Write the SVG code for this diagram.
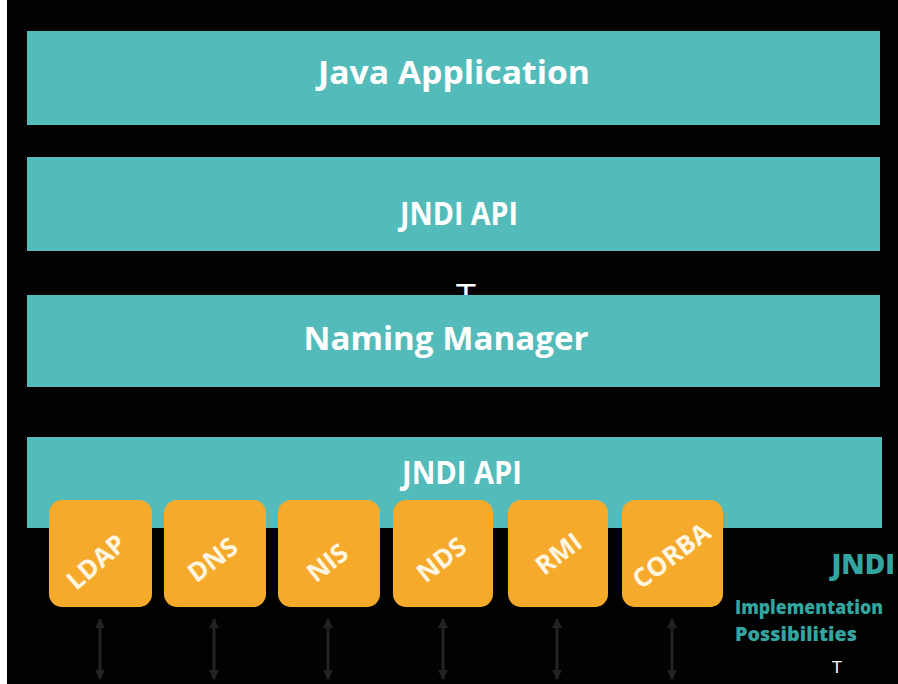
<svg xmlns="http://www.w3.org/2000/svg" width="898" height="684" viewBox="0 0 898 684">
  <defs>
    <style>
      .layer { fill: #53bbb9; }
      .layer-label { font-family: "Open Sans", "Liberation Sans", sans-serif; font-weight: 700; font-size: 32px; fill: #ffffff; text-anchor: middle; }
      .impl { fill: #f6aa2c; }
      .impl-label { font-family: "Open Sans", "Liberation Sans", sans-serif; font-weight: 700; font-size: 26px; fill: #fff6e2; text-anchor: middle; }
      .caption { font-family: "Open Sans", "Liberation Sans", sans-serif; font-weight: 800; fill: #32a5a1; }
      .cursor { font-family: "Liberation Sans", sans-serif; fill: #ffffff; text-anchor: middle; }
      .link { stroke: #232323; stroke-width: 3; fill: none; marker-start: url(#tip); marker-end: url(#tip); }
    </style>
    <marker id="tip" viewBox="0 0 10 10" refX="9" refY="5" markerWidth="3.5" markerHeight="3.5" orient="auto-start-reverse">
      <path d="M0,0 L10,5 L0,10 Z" fill="#232323"/>
    </marker>
  </defs>

  <!-- canvas -->
  <rect x="0" y="0" width="898" height="684" fill="#ffffff"/>
  <rect x="7" y="0" width="891" height="684" fill="#020202"/>

  <!-- stacked layers -->
  <g id="java-application">
    <rect class="layer" x="27" y="31" width="853" height="94"/>
    <text class="layer-label" x="454" y="84" textLength="272" lengthAdjust="spacingAndGlyphs">Java Application</text>
  </g>
  <g id="jndi-api-top">
    <rect class="layer" x="27" y="157" width="853" height="94"/>
    <text class="layer-label" x="459" y="225" textLength="118" lengthAdjust="spacingAndGlyphs">JNDI API</text>
  </g>

  <!-- caret between the API and the naming manager (partly hidden by the layer below) -->
  <text class="cursor" x="466" y="307" font-size="34">T</text>

  <g id="naming-manager">
    <rect class="layer" x="27" y="295" width="853" height="92"/>
    <text class="layer-label" x="446" y="350" textLength="285" lengthAdjust="spacingAndGlyphs">Naming Manager</text>
  </g>
  <g id="jndi-api-bottom">
    <rect class="layer" x="27" y="437" width="855" height="91"/>
    <text class="layer-label" x="462" y="484" textLength="120" lengthAdjust="spacingAndGlyphs">JNDI API</text>
  </g>

  <!-- service provider implementations -->
  <g id="ldap">
    <rect class="impl" x="49" y="500" width="103" height="107" rx="13"/>
    <text class="impl-label" transform="translate(102 569) rotate(-41)">LDAP</text>
  </g>
  <g id="dns">
    <rect class="impl" x="164" y="500" width="102" height="107" rx="13"/>
    <text class="impl-label" transform="translate(218 567) rotate(-37)">DNS</text>
  </g>
  <g id="nis">
    <rect class="impl" x="278" y="500" width="102" height="107" rx="13"/>
    <text class="impl-label" transform="translate(333 570) rotate(-38)">NIS</text>
  </g>
  <g id="nds">
    <rect class="impl" x="393" y="500" width="100" height="107" rx="13"/>
    <text class="impl-label" transform="translate(447 567) rotate(-38)">NDS</text>
  </g>
  <g id="rmi">
    <rect class="impl" x="508" y="500" width="100" height="107" rx="13"/>
    <text class="impl-label" transform="translate(564 561) rotate(-37)">RMI</text>
  </g>
  <g id="corba">
    <rect class="impl" x="622" y="500" width="101" height="107" rx="13"/>
    <text class="impl-label" transform="translate(677 563) rotate(-37)">CORBA</text>
  </g>

  <!-- two-way links below each provider -->
  <g id="connectors">
    <line class="link" x1="100" y1="619" x2="100" y2="679"/>
    <line class="link" x1="214" y1="619" x2="214" y2="679"/>
    <line class="link" x1="328" y1="619" x2="328" y2="679"/>
    <line class="link" x1="443" y1="619" x2="443" y2="679"/>
    <line class="link" x1="557" y1="619" x2="557" y2="679"/>
    <line class="link" x1="672" y1="619" x2="672" y2="679"/>
  </g>

  <!-- caption -->
  <g id="caption">
    <text class="caption" x="895" y="574" font-size="28" text-anchor="end">JNDI</text>
    <text class="caption" x="735" y="614" font-size="19" textLength="148" lengthAdjust="spacingAndGlyphs">Implementation</text>
    <text class="caption" x="735" y="641" font-size="19" textLength="122" lengthAdjust="spacingAndGlyphs">Possibilities</text>
  </g>
  <text class="cursor" x="837" y="673" font-size="17">T</text>
</svg>
